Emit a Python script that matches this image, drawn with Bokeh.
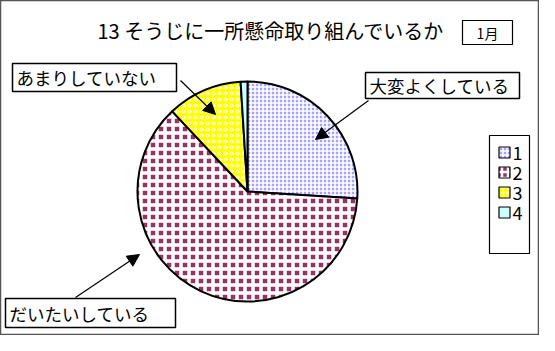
import numpy as np
from bokeh.plotting import figure
from bokeh.models import Range1d, Arrow, NormalHead
from bokeh.core.properties import value
from bokeh.embed import file_html
from bokeh.resources import INLINE

# ---- data ----
title_text = "13 そうじに一所懸命取り組んでいるか"
month_text = "1月"
categories = ["1", "2", "3", "4"]
values = [26, 62, 11, 1]
label_texts = ["大変よくしている", "だいたいしている", "あまりしていない"]

# ---- styles ----
fill_colors = ["#a3a3ff", "#993366", "#ffff00", "#ccffff"]
hatch_patterns = ["cross", "cross", "ring", "blank"]
hatch_colors = ["#ffffff", "#ffffff", "#ffffff", "#ccffff"]
hatch_scales = [4, 8, 6, 4]
hatch_weights = [1.6, 3.5, 1, 1]

FONT = "Noto Sans CJK JP"
W, H = 539, 335


def Y(py):
    # page y -> data y
    return 351 - py


p = figure(width=W, height=H, output_backend="svg", toolbar_location=None,
           x_range=Range1d(8, 8 + W), y_range=Range1d(351 - 8 - H, 351 - 8),
           x_axis_type=None, y_axis_type=None, min_border=0)
p.grid.visible = False
p.outline_line_color = "#555555"
p.outline_line_width = 1.5
p.background_fill_color = "white"

# ---- pie ----
vals = np.array(values, dtype=float)
frac = vals / vals.sum()
cum = np.concatenate([[0], np.cumsum(frac)])
start = np.pi / 2 - cum[:-1] * 2 * np.pi
end = np.pi / 2 - cum[1:] * 2 * np.pi
cx, cy, r = 255, Y(199), 110

for i in range(len(values)):
    p.wedge(x=cx, y=cy, radius=r, start_angle=start[i], end_angle=end[i],
            direction="clock", fill_color=fill_colors[i],
            hatch_pattern=hatch_patterns[i], hatch_color=hatch_colors[i],
            hatch_scale=hatch_scales[i], hatch_weight=hatch_weights[i],
            line_color="black", line_width=2)

# ---- title ----
p.text(x=[105], y=[Y(38)], text=[title_text], text_font=value(FONT),
       text_font_size="20px", text_baseline="middle", text_align="left",
       text_color="black")
p.quad(left=[470], right=[520], top=[Y(28)], bottom=[Y(52)],
       fill_color="white", line_color="black", line_width=1.2)
p.text(x=[495], y=[Y(40)], text=[month_text], text_font=value(FONT),
       text_font_size="14px", text_baseline="middle", text_align="center")

# ---- callout labels ----
boxes = [(373, 527, 80, 106), (13, 183, 306, 335), (20, 184, 71, 99)]
for (l, rr, t, b), txt in zip(boxes, label_texts):
    p.quad(left=[l], right=[rr], top=[Y(t)], bottom=[Y(b)],
           fill_color="white", line_color="black", line_width=1.5)
    p.text(x=[l + 4], y=[Y((t + b) / 2)], text=[txt], text_font=value(FONT),
           text_font_size="17.5px", text_baseline="middle", text_align="left")

arrows = [((376, 108), (323, 147)), ((83, 305), (147, 262)),
          ((188, 88), (223, 122))]
for (sx, sy), (ex, ey) in arrows:
    p.add_layout(Arrow(end=NormalHead(size=12, fill_color="black",
                                      line_color="black"),
                       x_start=sx, y_start=Y(sy), x_end=ex, y_end=Y(ey),
                       line_color="black", line_width=1.2))

# ---- legend ----
p.quad(left=[497], right=[537], top=[Y(143)], bottom=[Y(261)],
       fill_color="white", line_color="black", line_width=1.2)
leg_scales = [4, 6, 5, 4]
leg_weights = [1.6, 2.5, 1, 1]
for i, cat in enumerate(categories):
    yy = Y(160 + 20 * i)
    p.rect(x=512, y=yy, width=11, height=11, fill_color=fill_colors[i],
           hatch_pattern=hatch_patterns[i], hatch_color=hatch_colors[i],
           hatch_scale=leg_scales[i], hatch_weight=leg_weights[i],
           line_color="black", line_width=1.2)
    p.text(x=[520], y=[yy], text=[cat], text_font=value(FONT),
           text_font_size="18px", text_baseline="middle", text_align="left")

open("out.html", "w").write(file_html(p, INLINE))
